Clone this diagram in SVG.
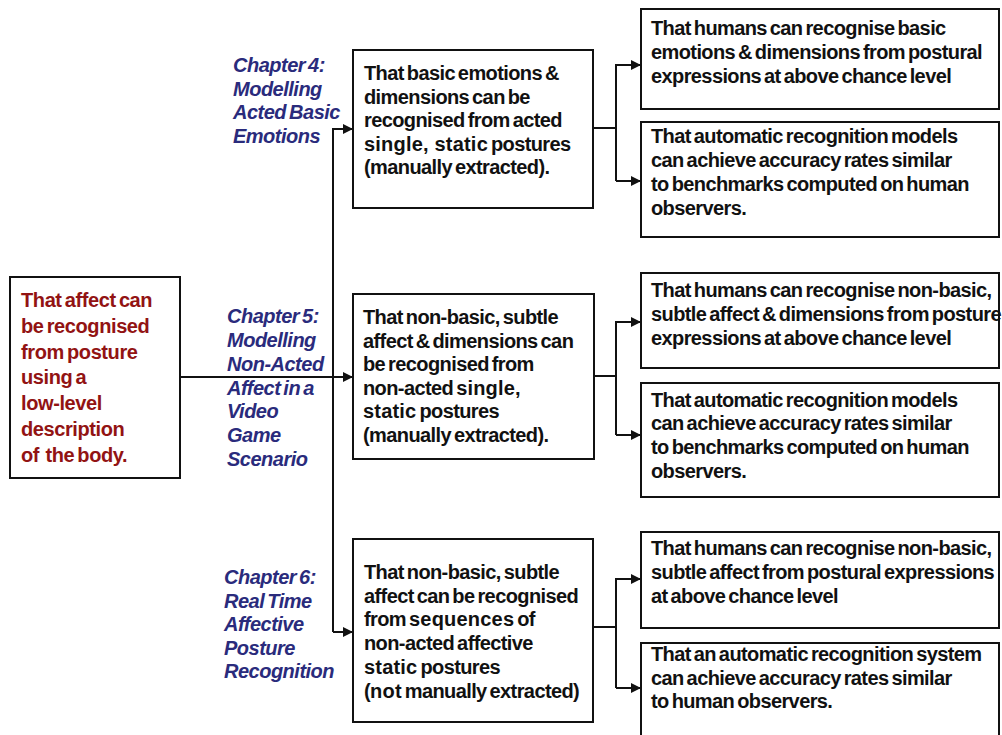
<svg xmlns="http://www.w3.org/2000/svg" width="1002" height="735" viewBox="0 0 1002 735">
  <defs>
    <style>
      .box { fill: #fff; stroke: #111; stroke-width: 2; }
      .t { font-family: "Liberation Sans", Arial, sans-serif; font-weight: bold; font-size: 20px; letter-spacing: -0.6px; word-spacing: -2px; fill: #111; }
      .em { letter-spacing: 0.2px; word-spacing: 0; }
      .red { fill: #921313; letter-spacing: -0.4px; }
      .ch { font-style: italic; fill: #2a2b7c; letter-spacing: -0.5px; }
      .wire { fill: none; stroke: #111; stroke-width: 2; }
    </style>
    <marker id="arrow" viewBox="0 0 10 10" refX="9" refY="5" markerWidth="10" markerHeight="10" markerUnits="userSpaceOnUse" orient="auto">
      <path d="M0,0 L10,5 L0,10 z" fill="#111"/>
    </marker>
  </defs>
  <rect width="1002" height="735" fill="#fff"/>

  <!-- connectors -->
  <g id="connectors">
    <!-- hypothesis to chapter 5 study, with trunk to chapters 4 and 6 -->
    <path class="wire" d="M180,377 H352" marker-end="url(#arrow)"/>
    <path class="wire" d="M333,632 V129 H352" marker-end="url(#arrow)"/>
    <path class="wire" d="M333,632 H352" marker-end="url(#arrow)"/>
    <!-- chapter 4 outcomes -->
    <path class="wire" d="M593,128 H616"/>
    <path class="wire" d="M616,181 V65 H640" marker-end="url(#arrow)"/>
    <path class="wire" d="M616,181 H640" marker-end="url(#arrow)"/>
    <!-- chapter 5 outcomes -->
    <path class="wire" d="M594,376 H616"/>
    <path class="wire" d="M616,435 V322 H640" marker-end="url(#arrow)"/>
    <path class="wire" d="M616,435 H640" marker-end="url(#arrow)"/>
    <!-- chapter 6 outcomes -->
    <path class="wire" d="M593,627 H616"/>
    <path class="wire" d="M616,688 V579 H640" marker-end="url(#arrow)"/>
    <path class="wire" d="M616,688 H640" marker-end="url(#arrow)"/>
  </g>

  <!-- main hypothesis -->
  <g id="hypothesis">
    <rect class="box" x="10" y="277" width="170" height="201"/>
    <text class="t red" x="21">
      <tspan x="21" y="307">That affect can</tspan>
      <tspan x="21" y="333">be recognised</tspan>
      <tspan x="21" y="359">from posture</tspan>
      <tspan x="21" y="384">using a</tspan>
      <tspan x="21" y="410">low-level</tspan>
      <tspan x="21" y="436">description</tspan>
      <tspan x="21" y="462">of&#160; the body.</tspan>
    </text>
  </g>

  <!-- chapter labels -->
  <g id="chapter4-label">
    <text class="t ch">
      <tspan x="233" y="72">Chapter 4:</tspan>
      <tspan x="233" y="95.5">Modelling</tspan>
      <tspan x="233" y="119">Acted Basic</tspan>
      <tspan x="233" y="142.5">Emotions</tspan>
    </text>
  </g>
  <g id="chapter5-label">
    <text class="t ch">
      <tspan x="227" y="323">Chapter 5:</tspan>
      <tspan x="227" y="347">Modelling</tspan>
      <tspan x="227" y="370.5">Non-Acted</tspan>
      <tspan x="227" y="394.5">Affect in a</tspan>
      <tspan x="227" y="418">Video</tspan>
      <tspan x="227" y="442">Game</tspan>
      <tspan x="227" y="466">Scenario</tspan>
    </text>
  </g>
  <g id="chapter6-label">
    <text class="t ch">
      <tspan x="224" y="584">Chapter 6:</tspan>
      <tspan x="224" y="607.5">Real Time</tspan>
      <tspan x="224" y="631">Affective</tspan>
      <tspan x="224" y="654.5">Posture</tspan>
      <tspan x="224" y="678">Recognition</tspan>
    </text>
  </g>

  <!-- chapter studies -->
  <g id="study4">
    <rect class="box" x="353" y="50" width="240" height="158"/>
    <text class="t">
      <tspan x="364" y="80">That basic emotions &amp;</tspan>
      <tspan x="364" y="103.5">dimensions can be</tspan>
      <tspan x="364" y="127">recognised from acted</tspan>
      <tspan x="364" y="150.5"><tspan class="em">single, static</tspan> postures</tspan>
      <tspan x="364" y="174">(manually extracted).</tspan>
    </text>
  </g>
  <g id="study5">
    <rect class="box" x="353" y="294" width="241" height="165"/>
    <text class="t">
      <tspan x="363" y="324">That non-basic, subtle</tspan>
      <tspan x="363" y="347.5">affect &amp; dimensions can</tspan>
      <tspan x="363" y="371">be recognised from</tspan>
      <tspan x="363" y="394.5">non-acted <tspan class="em">single,</tspan></tspan>
      <tspan x="363" y="418"><tspan class="em">static</tspan> postures</tspan>
      <tspan x="363" y="441.5">(manually extracted).</tspan>
    </text>
  </g>
  <g id="study6">
    <rect class="box" x="353" y="539" width="240" height="183"/>
    <text class="t">
      <tspan x="364" y="579">That non-basic, subtle</tspan>
      <tspan x="364" y="602.5">affect can be recognised</tspan>
      <tspan x="364" y="626">from <tspan class="em">sequences</tspan> of</tspan>
      <tspan x="364" y="650">non-acted affective</tspan>
      <tspan x="364" y="674"><tspan class="em">static</tspan> postures</tspan>
      <tspan x="364" y="698">(<tspan class="em">not</tspan> manually extracted)</tspan>
    </text>
  </g>

  <!-- outcomes -->
  <g id="outcome4a">
    <rect class="box" x="641" y="9" width="358" height="100"/>
    <text class="t">
      <tspan x="651" y="35">That humans can recognise basic</tspan>
      <tspan x="651" y="59">emotions &amp; dimensions from postural</tspan>
      <tspan x="651" y="83">expressions at above chance level</tspan>
    </text>
  </g>
  <g id="outcome4b">
    <rect class="box" x="641" y="122" width="358" height="115"/>
    <text class="t">
      <tspan x="651" y="143">That automatic recognition models</tspan>
      <tspan x="651" y="167">can achieve accuracy rates similar</tspan>
      <tspan x="651" y="191">to benchmarks computed on human</tspan>
      <tspan x="651" y="215">observers.</tspan>
    </text>
  </g>
  <g id="outcome5a">
    <rect class="box" x="641" y="273" width="358" height="95"/>
    <text class="t">
      <tspan x="651" y="297">That humans can recognise non-basic,</tspan>
      <tspan x="651" y="321">subtle affect &amp; dimensions from posture</tspan>
      <tspan x="651" y="345">expressions at above chance level</tspan>
    </text>
  </g>
  <g id="outcome5b">
    <rect class="box" x="641" y="383" width="358" height="114"/>
    <text class="t">
      <tspan x="651" y="406.5">That automatic recognition models</tspan>
      <tspan x="651" y="430">can achieve accuracy rates similar</tspan>
      <tspan x="651" y="454">to benchmarks computed on human</tspan>
      <tspan x="651" y="478">observers.</tspan>
    </text>
  </g>
  <g id="outcome6a">
    <rect class="box" x="641" y="532" width="358" height="96"/>
    <text class="t">
      <tspan x="651" y="555">That humans can recognise non-basic,</tspan>
      <tspan x="651" y="579">subtle affect from postural expressions</tspan>
      <tspan x="651" y="603">at above chance level</tspan>
    </text>
  </g>
  <g id="outcome6b">
    <rect class="box" x="641" y="643" width="358" height="120"/>
    <text class="t">
      <tspan x="651" y="661">That an automatic recognition system</tspan>
      <tspan x="651" y="684.5">can achieve accuracy rates similar</tspan>
      <tspan x="651" y="708">to human observers.</tspan>
    </text>
  </g>
</svg>
